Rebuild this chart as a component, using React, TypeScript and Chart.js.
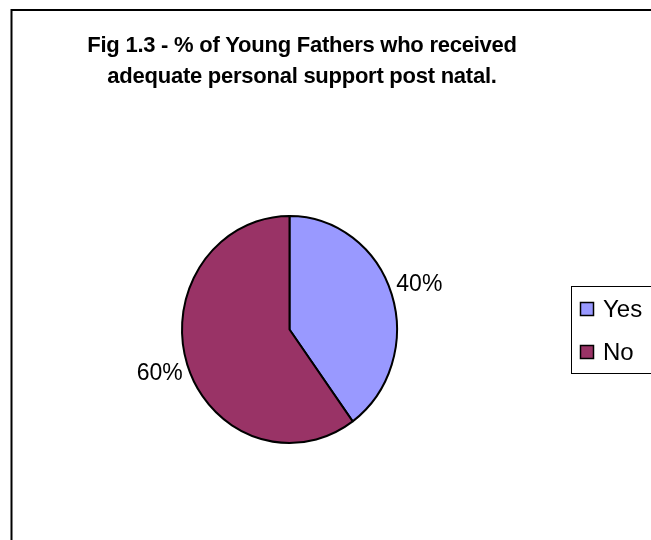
import React, { useEffect, useRef } from "react";
import { Chart, registerables } from "chart.js";

Chart.register(...registerables);

const categories = ["Yes", "No"];
const values = [40, 60];
const sliceColors = ["#9999FF", "#993366"];
const titleLines = [
  "Fig 1.3 - % of Young Fathers who received",
  "adequate personal support post natal.",
];

const FONT = '"Liberation Sans", Arial, sans-serif';
const Y_STRETCH = 113.5 / 107.5;

export default function App() {
  const ref = useRef<HTMLCanvasElement | null>(null);

  useEffect(() => {
    const canvas = ref.current;
    if (!canvas) return;
    const total = values.reduce((a, b) => a + b, 0);

    const framePlugin = {
      id: "frame",
      beforeDraw(chart: any) {
        const ctx = chart.ctx;
        ctx.save();
        ctx.fillStyle = "#ffffff";
        ctx.fillRect(0, 0, chart.width, chart.height);
        ctx.strokeStyle = "#000000";
        ctx.lineWidth = 2;
        ctx.strokeRect(11.5, 10, 800, 700);
        ctx.restore();
      },
    };

    const stretchPlugin = {
      id: "stretch",
      beforeDatasetsDraw(chart: any) {
        const arc = chart.getDatasetMeta(0).data[0];
        const ctx = chart.ctx;
        ctx.save();
        ctx.translate(arc.x, arc.y);
        ctx.scale(1, Y_STRETCH);
        ctx.translate(-arc.x, -arc.y);
      },
      afterDatasetsDraw(chart: any) {
        const ctx = chart.ctx;
        ctx.restore();
        const meta = chart.getDatasetMeta(0);
        ctx.save();
        ctx.fillStyle = "#000000";
        ctx.font = `23px ${FONT}`;
        ctx.textAlign = "center";
        ctx.textBaseline = "middle";
        meta.data.forEach((arc: any, i: number) => {
          const mid = (arc.startAngle + arc.endAngle) / 2;
          const dist = arc.outerRadius + 29;
          const px = arc.x + Math.cos(mid) * dist;
          const py = arc.y + Math.sin(mid) * dist * Y_STRETCH;
          const pct = Math.round((values[i] / total) * 100) + "%";
          ctx.fillText(pct, px, py);
        });
        ctx.restore();
      },
    };

    const textPlugin = {
      id: "texts",
      afterDraw(chart: any) {
        const ctx = chart.ctx;
        ctx.save();
        ctx.fillStyle = "#000000";
        ctx.font = `bold 22px ${FONT}`;
        ctx.textAlign = "center";
        ctx.textBaseline = "alphabetic";
        try { (ctx as any).letterSpacing = "-0.25px"; } catch (e) {}
        ctx.fillText(titleLines[0], 302, 52);
        ctx.fillText(titleLines[1], 302, 83);
        try { (ctx as any).letterSpacing = "0px"; } catch (e) {}

        // legend
        ctx.strokeStyle = "#000000";
        ctx.lineWidth = 1;
        ctx.strokeRect(571.5, 286.5, 200, 87);
        const colors = chart.data.datasets[0].backgroundColor as string[];
        ctx.font = `24px ${FONT}`;
        ctx.textAlign = "left";
        ctx.textBaseline = "middle";
        chart.data.labels.forEach((lab: string, i: number) => {
          const top = 302.5 + i * 43;
          ctx.fillStyle = colors[i];
          ctx.fillRect(580.5, top, 13, 13);
          ctx.lineWidth = 1.5;
          ctx.strokeStyle = "#000000";
          ctx.strokeRect(580.5, top, 13, 13);
          ctx.fillStyle = "#000000";
          ctx.fillText(lab, 603, top + 7.5);
        });
        ctx.restore();
      },
    };

    const chart = new Chart(canvas, {
      type: "pie",
      data: {
        labels: categories,
        datasets: [
          {
            data: values,
            backgroundColor: sliceColors,
            borderColor: "#000000",
            borderWidth: 2,
            hoverBorderWidth: 2,
            hoverOffset: 0,
            offset: 0,
          },
        ],
      },
      options: {
        responsive: false,
        maintainAspectRatio: false,
        animation: false,
        events: [],
        layout: { padding: { left: 181, right: 253, top: 221, bottom: 102 } },
        plugins: {
          legend: { display: false },
          title: { display: false },
          tooltip: { enabled: false },
        },
      },
      plugins: [framePlugin, stretchPlugin, textPlugin],
    });

    return () => chart.destroy();
  }, []);

  return (
    <div style={{ position: "fixed", left: 0, top: 0, width: 651, height: 540, overflow: "hidden", background: "#fff" }}>
      <canvas ref={ref} width={651} height={540} style={{ display: "block" }} />
    </div>
  );
}
